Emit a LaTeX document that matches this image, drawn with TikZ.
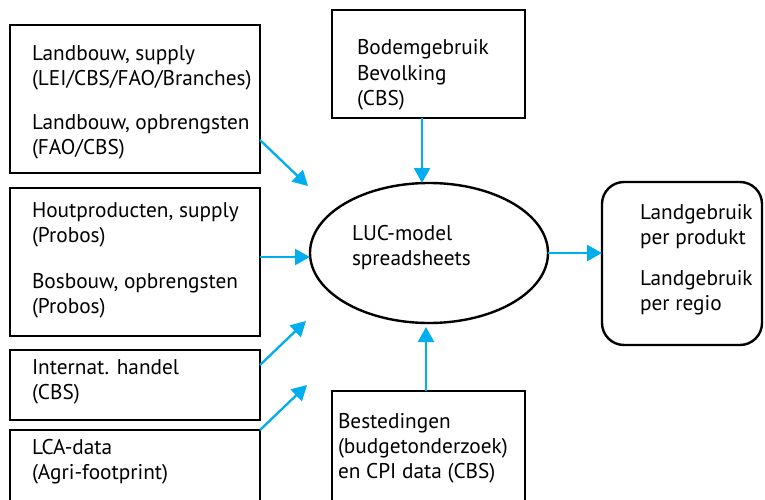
\documentclass[tikz,border=0pt]{standalone}
\usepackage{fontspec}
\setmainfont{PT Sans}
\usetikzlibrary{arrows.meta,shapes.geometric,calc}
\definecolor{arrblue}{HTML}{00AEEF}
\begin{document}
\begin{tikzpicture}[x=1pt,y=-1pt,
  box/.style={draw=black, line width=2.4pt, rectangle, inner sep=0pt, outer sep=0pt},
  txt/.style={inner sep=0pt, outer sep=0pt, anchor=base west, font=\fontsize{21.3}{25}\selectfont},
  arr/.style={draw=arrblue, line width=2.3pt, -{Triangle[length=15pt,width=16pt]}}]
\useasboundingbox (0,0) rectangle (765,500);
% boxes
\node[box, minimum width=250pt, minimum height=148pt] (b1) at (135,99) {};
\node[box, minimum width=250pt, minimum height=148pt] (b2) at (135,262) {};
\node[box, minimum width=250pt, minimum height=70pt] (b3) at (135,385) {};
\node[box, minimum width=250pt, minimum height=75pt] (b4) at (135,467.5) {};
\node[box, minimum width=193pt, minimum height=108pt] (top) at (428.5,64) {};
\node[box, minimum width=193pt, minimum height=114pt] (bot) at (428.5,448) {};
\node[box, rounded corners=22pt, minimum width=160pt, minimum height=163pt] (res) at (682,263.5) {};
\node[draw=black, line width=2.4pt, ellipse, inner sep=0pt, outer sep=0pt, minimum width=238pt, minimum height=140pt] (e) at (429,253) {};
% texts
\node[txt] (t11) at (32,61) {Landbouw, supply};
\node[txt] (t12) at (32,86) {(LEI/CBS/FAO/Branches)};
\node[txt] (t13) at (32,129) {Landbouw, opbrengsten};
\node[txt] (t14) at (32,154) {(FAO/CBS)};
\node[txt] (t21) at (32,217) {Houtproducten, supply};
\node[txt] (t22) at (32,242) {(Probos)};
\node[txt] (t23) at (32,288) {Bosbouw, opbrengsten};
\node[txt] (t24) at (32,313) {(Probos)};
\node[txt] (t31) at (32,374) {Internat. handel};
\node[txt] (t32) at (32,399) {(CBS)};
\node[txt] (t41) at (32,454) {LCA-data};
\node[txt] (t42) at (32,479) {(Agri-footprint)};
\node[txt] (tt1) at (357,55) {Bodemgebruik};
\node[txt] (tt2) at (357,80.5) {Bevolking};
\node[txt] (tt3) at (357,106) {(CBS)};
\node[txt] (tb1) at (338,428) {Bestedingen};
\node[txt] (tb2) at (338,453) {(budgetonderzoek)};
\node[txt] (tb3) at (338,478) {en CPI data (CBS)};
\node[txt] (te1) at (352,240) {LUC-model};
\node[txt] (te2) at (352,265) {spreadsheets};
\node[txt] (tr1) at (640,219) {Landgebruik};
\node[txt] (tr2) at (640,244) {per produkt};
\node[txt] (tr3) at (640,285) {Landgebruik};
\node[txt] (tr4) at (640,310) {per regio};
% arrow end points
\coordinate (a1e) at (308,186);
\coordinate (a2e) at ([yshift=-4pt]e.west);
\coordinate (a3e) at (306,321);
\coordinate (a4e) at (307,385);
\coordinate (ate) at (422,183);
\coordinate (abe) at (426,327);
% arrows
\draw[arr] ([yshift=-41pt]b1.east) -- (a1e);
\draw[arr] (b2.east |- a2e) -- (a2e);
\draw[arr] ([yshift=20pt]b3.east) -- (a3e);
\draw[arr] (b4.north east) -- (a4e);
\draw[arr] (top.south -| ate) -- (ate);
\draw[arr] (bot.north -| abe) -- (abe);
\draw[arr] (e.east) -- (res.west |- e.east);
\end{tikzpicture}
\end{document}
